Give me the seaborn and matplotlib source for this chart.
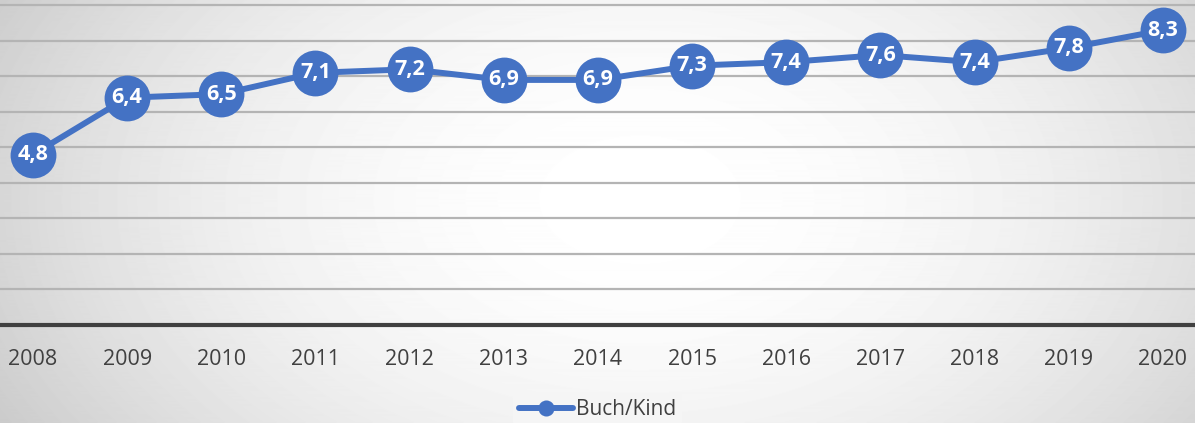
import numpy as np
import pandas as pd
import matplotlib
matplotlib.use("Agg")
import matplotlib.pyplot as plt
import seaborn as sns

# Datos
jahre = [2008, 2009, 2010, 2011, 2012, 2013, 2014, 2015, 2016, 2017, 2018, 2019, 2020]
buch_kind = [4.8, 6.4, 6.5, 7.1, 7.2, 6.9, 6.9, 7.3, 7.4, 7.6, 7.4, 7.8, 8.3]
etiquetas = [f"{v:.1f}".replace(".", ",") for v in buch_kind]

df = pd.DataFrame({"Jahr": jahre, "Buch/Kind": buch_kind})

sns.set_style("white")
plt.rcParams["font.family"] = ["Open Sans", "DejaVu Sans"]

azul = "#4472C4"
fig = plt.figure(figsize=(11.95, 4.23), dpi=100)

# Fondo con gradiente radial
bg = fig.add_axes([0, 0, 1, 1], zorder=0)
yy, xx = np.mgrid[0:423, 0:1195]
d = np.sqrt(((xx - 640) / 720.0) ** 2 + ((yy - 200) / 460.0) ** 2)
d = np.clip(d, 0, 1)
val = 1.0 - 0.2 * d ** 2
bg.imshow(val, cmap="gray", vmin=0, vmax=1, aspect="auto", extent=[0, 1, 0, 1])
bg.set_axis_off()

ax = fig.add_axes([0, 0.2317, 1, 0.7683], zorder=1)
ax.patch.set_alpha(0)

sns.lineplot(data=df, x="Jahr", y="Buch/Kind", ax=ax, color=azul, linewidth=4.3,
             marker="o", markersize=33, markeredgewidth=0, label="Buch/Kind")

for x, y, t in zip(jahre, buch_kind, etiquetas):
    ax.text(x, y, t, ha="center", va="center", color="white", fontsize=15.5,
            fontweight="bold", zorder=5)

ax.set_xlim(2008 - 0.35, 2020 + 0.34)
ax.set_ylim(0, 9.15)
ax.set_yticks(np.arange(1, 10))
ax.yaxis.grid(True, color="#b4b4b4", linewidth=1.6)
ax.set_axisbelow(True)
ax.set_yticklabels([])
ax.tick_params(axis="y", length=0)
ax.set_xticks(jahre)
ax.set_xticklabels([str(j) for j in jahre])
ax.tick_params(axis="x", length=0, labelsize=15.5, labelcolor="#404040", pad=17)
ax.set_xlabel("")
ax.set_ylabel("")
for s in ["top", "right", "left"]:
    ax.spines[s].set_visible(False)
ax.spines["bottom"].set_color("#404040")
ax.spines["bottom"].set_linewidth(3)

leg = ax.legend(loc="center", bbox_to_anchor=(0.5, -0.26), frameon=True,
                fontsize=15, handlelength=2.6, borderpad=0.3,
                handletextpad=0.1, markerscale=0.35)
leg.get_frame().set_facecolor("#f5f5f5")
leg.get_frame().set_edgecolor("none")
leg.get_frame().set_alpha(1)
for t in leg.get_texts():
    t.set_color("#404040")

fig.savefig("out.png", dpi=100)
